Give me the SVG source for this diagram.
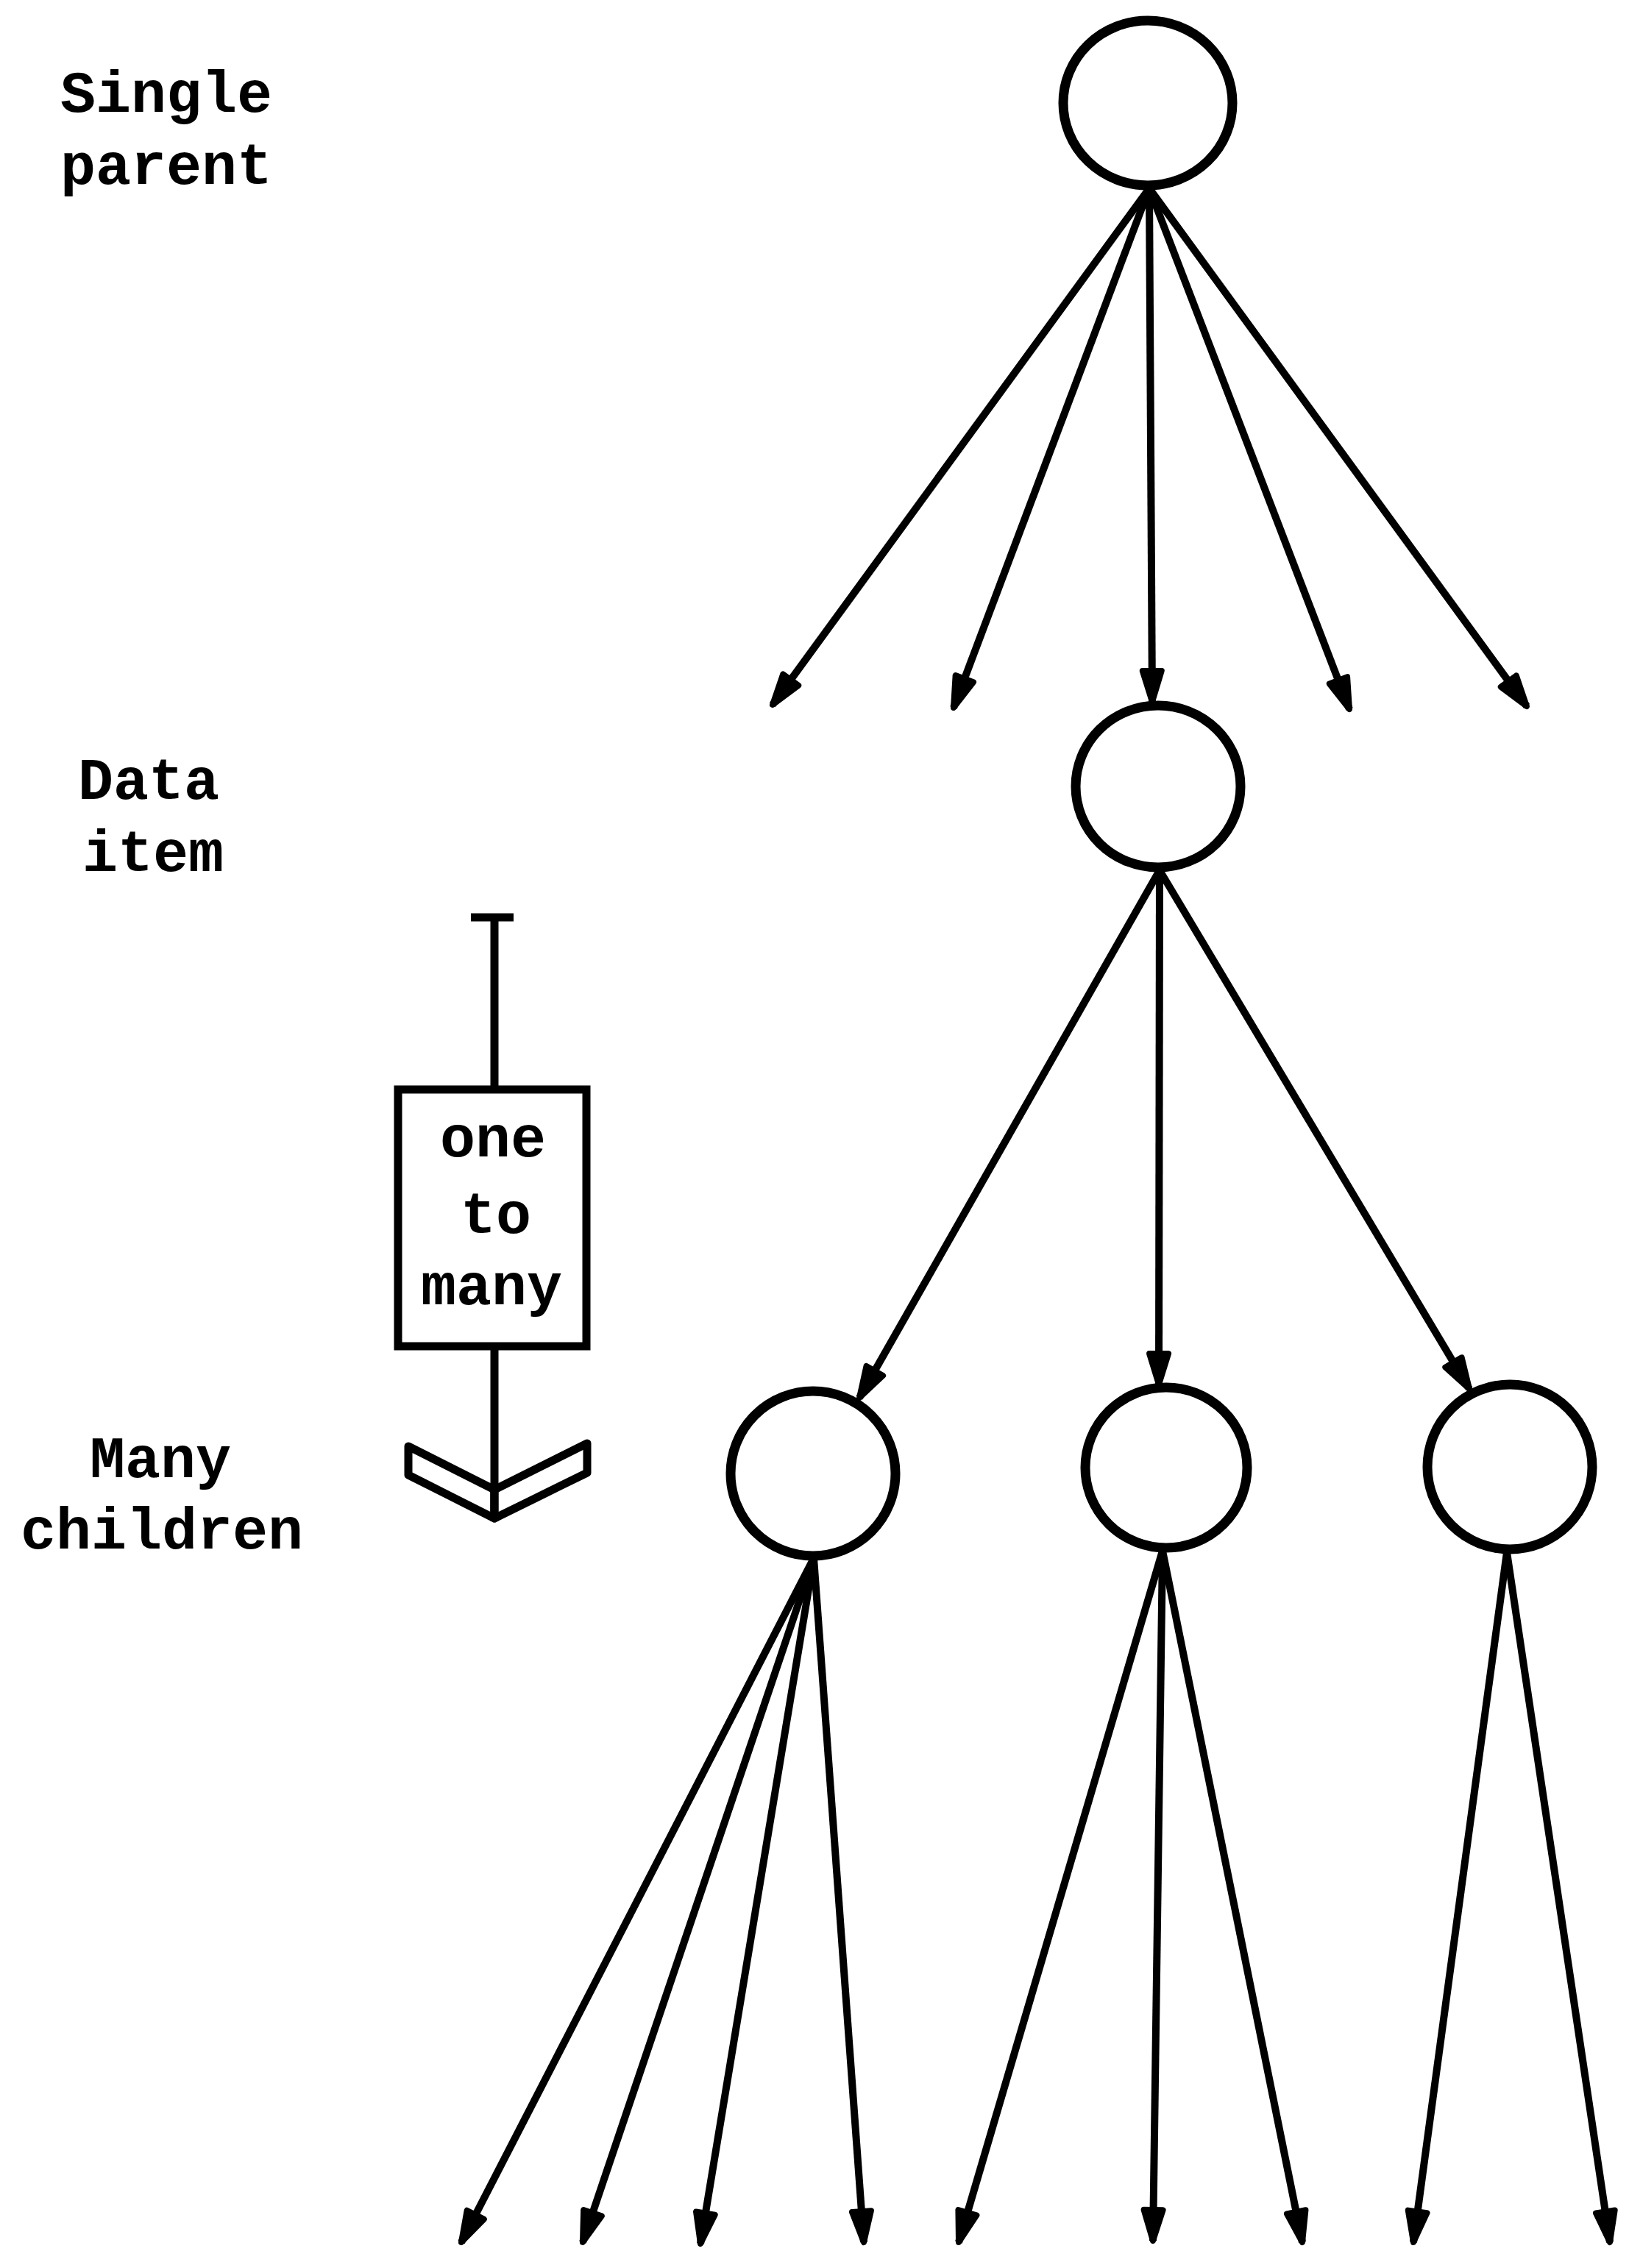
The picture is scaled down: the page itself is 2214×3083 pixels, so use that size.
<svg xmlns="http://www.w3.org/2000/svg" width="2214" height="3083" viewBox="0 0 2214 3083">
  <style>
    .node { fill: #fff; stroke: #000; stroke-width: 13; }
    .edge { fill: none; stroke: #000; stroke-width: 10; stroke-linecap: butt; marker-end: url(#head); }
    .lbl { font-family: "Liberation Mono", "DejaVu Sans Mono", monospace; font-weight: bold; font-size: 80px; fill: #000; }
    .key { fill: none; stroke: #000; stroke-width: 11; }
  </style>
  <defs>
    <marker id="head" markerUnits="userSpaceOnUse" orient="auto" refX="0" refY="0" markerWidth="60" markerHeight="40" viewBox="-50 -20 60 40" overflow="visible">
      <path d="M0,0 L-42,-13 L-42,13 Z" fill="#000" stroke="#000" stroke-width="8" stroke-linejoin="round"/>
    </marker>
  </defs>
  <rect width="2214" height="3083" fill="#fff"/>

  <!-- level captions -->
  <g id="caption-parent">
    <text class="lbl" x="82" y="152">Single</text>
    <text class="lbl" x="82" y="250">parent</text>
  </g>
  <g id="caption-item">
    <text class="lbl" x="106" y="1086">Data</text>
    <text class="lbl" x="112" y="1184">item</text>
  </g>
  <g id="caption-children">
    <text class="lbl" x="122" y="2008">Many</text>
    <text class="lbl" x="28" y="2105">children</text>
  </g>

  <!-- one-to-many key -->
  <g id="key-one-to-many">
    <line class="key" x1="640" y1="1247" x2="698" y2="1247"/>
    <line class="key" x1="672" y1="1247" x2="672" y2="1481"/>
    <rect class="key" x="541" y="1481" width="256" height="349" fill="#fff"/>
    <text class="lbl" x="670" y="1572" text-anchor="middle">one</text>
    <text class="lbl" x="674" y="1676" text-anchor="middle">to</text>
    <text class="lbl" x="668" y="1773" text-anchor="middle">many</text>
    <line class="key" x1="672" y1="1830" x2="672" y2="2066"/>
    <polygon points="555,1966 672,2025 672,2064 555,2005" fill="#fff" stroke="#000" stroke-width="11" stroke-linejoin="round"/>
    <polygon points="798,1962 672,2025 672,2064 798,2002" fill="#fff" stroke="#000" stroke-width="11" stroke-linejoin="round"/>
    <line class="key" x1="672" y1="2020" x2="672" y2="2068"/>
  </g>

  <!-- tree nodes -->
  <g id="node-parent"><ellipse class="node" cx="1560" cy="140" rx="115" ry="112"/></g>
  <g id="node-item"><ellipse class="node" cx="1574" cy="1069" rx="112" ry="110"/></g>
  <g id="node-child-1"><ellipse class="node" cx="1105" cy="2003" rx="112" ry="112"/></g>
  <g id="node-child-2"><ellipse class="node" cx="1585" cy="1995" rx="110" ry="109"/></g>
  <g id="node-child-3"><ellipse class="node" cx="2052" cy="1994" rx="112" ry="112"/></g>

  <!-- connectors -->
  <g id="connectors">
    <line class="edge" x1="1562" y1="256" x2="1050" y2="958"/>
    <line class="edge" x1="1562" y1="256" x2="1296" y2="962"/>
    <line class="edge" x1="1562" y1="256" x2="1566" y2="954"/>
    <line class="edge" x1="1562" y1="256" x2="1834" y2="964"/>
    <line class="edge" x1="1562" y1="256" x2="2075" y2="960"/>

    <line class="edge" x1="1576" y1="1183" x2="1168" y2="1900"/>
    <line class="edge" x1="1576" y1="1183" x2="1575" y2="1882"/>
    <line class="edge" x1="1576" y1="1183" x2="1997" y2="1888"/>

    <line class="edge" x1="1106" y1="2118" x2="627" y2="3048"/>
    <line class="edge" x1="1106" y1="2118" x2="792" y2="3048"/>
    <line class="edge" x1="1106" y1="2118" x2="952" y2="3050"/>
    <line class="edge" x1="1106" y1="2118" x2="1174" y2="3048"/>

    <line class="edge" x1="1580" y1="2108" x2="1303" y2="3048"/>
    <line class="edge" x1="1580" y1="2108" x2="1567" y2="3046"/>
    <line class="edge" x1="1580" y1="2108" x2="1770" y2="3048"/>

    <line class="edge" x1="2048" y1="2110" x2="1921" y2="3048"/>
    <line class="edge" x1="2048" y1="2110" x2="2188" y2="3048"/>
  </g>
</svg>
